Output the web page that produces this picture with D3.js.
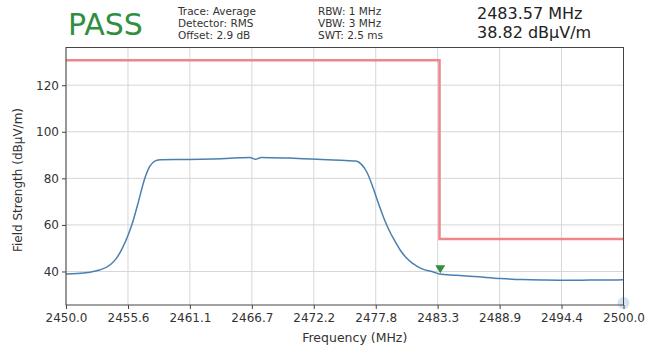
<!DOCTYPE html>
<html><head><meta charset="utf-8">
<script src="https://cdn.jsdelivr.net/npm/d3@7"></script>
<style>body{margin:0;background:#fff}svg{display:block;font-family:"DejaVu Sans",sans-serif}</style>
</head><body><svg id="c" width="648" height="347"></svg>
<script>
const freqs = [2450.0,2451.0,2452.0,2453.0,2454.0,2454.5,2455.0,2455.6,2456.0,2456.5,2457.0,2457.5,2458.0,2458.5,2461.0,2463.0,2465.0,2466.5,2467.0,2467.5,2470.0,2472.0,2474.0,2476.0,2476.5,2477.0,2477.5,2478.0,2478.5,2479.0,2479.5,2480.0,2480.5,2481.0,2481.5,2482.0,2483.0,2483.5,2485.0,2487.0,2489.0,2491.0,2493.0,2495.0,2497.0,2500.0];
const levels = [38.9,39.1,39.6,40.6,43.0,45.5,49.5,56.0,61.5,70.0,79.0,85.0,87.5,88.0,88.1,88.3,88.7,89.0,88.2,89.0,88.7,88.3,87.9,87.4,86.0,82.5,76.5,69.5,63.0,57.5,53.0,49.0,46.0,43.8,42.2,41.0,39.7,38.9,38.4,37.7,37.0,36.5,36.3,36.2,36.3,36.4];
const limitFreqs = [2450.0,2483.5,2483.5,2500.0];
const limitLevels = [130.7,130.7,54.0,54.0];
const xTicks = [2450.0,2455.56,2461.11,2466.67,2472.22,2477.78,2483.33,2488.89,2494.44,2500.0];
const yTicks = [40,60,80,100,120];
const markerFreq = 2483.57, markerLevel = 38.82;
const infoCol1 = ["Trace: Average","Detector: RMS","Offset: 2.9 dB"];
const infoCol2 = ["RBW: 1 MHz","VBW: 3 MHz","SWT: 2.5 ms"];
const markerText = ["2483.57 MHz","38.82 dBµV/m"];

const svg = d3.select("#c");
const L=66,R=623.5,T=47.5,B=305;
const x = d3.scaleLinear().domain([2450,2500]).range([L,R]);
const y = d3.scaleLinear().domain([25.6,136.2]).range([B,T]);

// grid
const g = svg.append("g");
g.selectAll("line.vx").data(xTicks).join("line").attr("x1",d=>x(d)).attr("x2",d=>x(d)).attr("y1",T).attr("y2",B).attr("stroke","#d6d6d6").attr("stroke-width",1);
g.selectAll("line.hy").data(yTicks).join("line").attr("x1",L).attr("x2",R).attr("y1",d=>y(d)).attr("y2",d=>y(d)).attr("stroke","#d6d6d6").attr("stroke-width",1);

// limit line
const line = d3.line().x(d=>x(d[0])).y(d=>y(d[1]));
svg.append("path").datum(limitFreqs.map((f,i)=>[f,limitLevels[i]])).attr("d",line)
  .attr("fill","none").attr("stroke","#f0868c").attr("stroke-width",2.5);

// trace
const tline = d3.line().x(d=>x(d[0])).y(d=>y(d[1])).curve(d3.curveMonotoneX);
svg.append("path").datum(freqs.map((f,i)=>[f,levels[i]])).attr("d",tline)
  .attr("fill","none").attr("stroke","#4a80b0").attr("stroke-width",1.5);

// marker
const mx=x(markerFreq), my=y(markerLevel);
svg.append("path").attr("d",`M${mx-5},${my-9}L${mx+5},${my-9}L${mx},${my-1}Z`).attr("fill","#2f8f3f");

// faint blob at corner
svg.append("circle").attr("cx",x(2500)).attr("cy",B-2).attr("r",6).attr("fill","#a8c8e8").attr("opacity",0.5);

// axes
const xa = d3.axisBottom(x).tickValues(xTicks).tickFormat(d3.format(".1f")).tickSize(4).tickPadding(4);
const ya = d3.axisLeft(y).tickValues(yTicks).tickSize(4).tickPadding(3);
const gx = svg.append("g").attr("transform",`translate(0,${B})`).call(xa);
const gy = svg.append("g").attr("transform",`translate(${L},0)`).call(ya);
[gx,gy].forEach(a=>{a.selectAll("text").attr("font-size",12).attr("fill","#333").attr("font-family","DejaVu Sans");a.selectAll("line").attr("stroke","#444");a.select(".domain").remove();});
svg.append("rect").attr("x",L).attr("y",T).attr("width",R-L).attr("height",B-T).attr("fill","none").attr("stroke","#444").attr("stroke-width",1);

svg.append("text").attr("x",(L+R)/2+10).attr("y",342).attr("text-anchor","middle").attr("font-size",12.5).attr("fill","#333").text("Frequency (MHz)");
svg.append("text").attr("transform","translate(22,180) rotate(-90)").attr("text-anchor","middle").attr("font-size",12).attr("fill","#333").text("Field Strength (dBµV/m)");

// header
svg.append("text").attr("x",68).attr("y",35).attr("font-size",30).attr("fill","#2f8f3f").text("PASS");
infoCol1.forEach((t,i)=>svg.append("text").attr("x",178).attr("y",14.5+i*12).attr("font-size",10.5).attr("fill","#333").text(t));
infoCol2.forEach((t,i)=>svg.append("text").attr("x",318).attr("y",14.5+i*12).attr("font-size",10.5).attr("fill","#333").text(t));
markerText.forEach((t,i)=>svg.append("text").attr("x",477).attr("y",19+i*19).attr("font-size",16).attr("fill","#222").text(t));
</script></body></html>
